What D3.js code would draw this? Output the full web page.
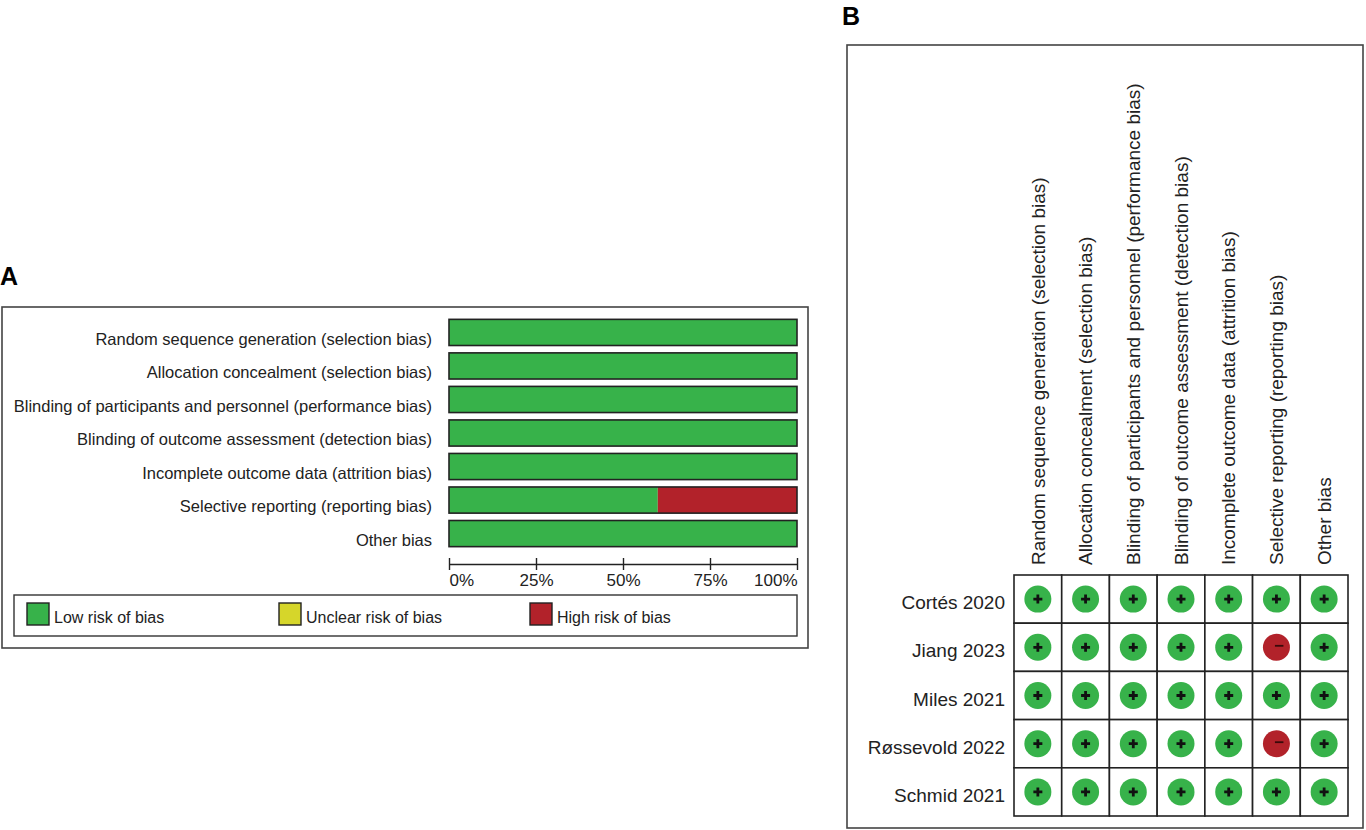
<!DOCTYPE html>
<html><head><meta charset="utf-8">
<script src="https://cdn.jsdelivr.net/npm/d3@7"></script>
<style>
html,body{margin:0;padding:0;background:#fff;}
svg{display:block;font-family:"Liberation Sans",Arial,sans-serif;}
</style></head>
<body>
<svg id="c" width="1366" height="830"></svg>
<script>
// ---- data ----
const domains = [
  "Random sequence generation (selection bias)",
  "Allocation concealment (selection bias)",
  "Blinding of participants and personnel (performance bias)",
  "Blinding of outcome assessment (detection bias)",
  "Incomplete outcome data (attrition bias)",
  "Selective reporting (reporting bias)",
  "Other bias"
];
const lowRisk     = [100, 100, 100, 100, 100, 60, 100];
const unclearRisk = [0, 0, 0, 0, 0, 0, 0];
const highRisk    = [0, 0, 0, 0, 0, 40, 0];
const tickValues  = [0, 25, 50, 75, 100];
const tickLabels  = ["0%", "25%", "50%", "75%", "100%"];
const legendLabels = ["Low risk of bias", "Unclear risk of bias", "High risk of bias"];
const studies = ["Cortés 2020", "Jiang 2023", "Miles 2021", "Røssevold 2022", "Schmid 2021"];
const judgements = [
  ["+","+","+","+","+","+","+"],
  ["+","+","+","+","+","-","+"],
  ["+","+","+","+","+","+","+"],
  ["+","+","+","+","+","-","+"],
  ["+","+","+","+","+","+","+"]
];

const GREEN = "#37b24a", YELLOW = "#d6d62a", RED = "#b2222a", STROKE = "#222";
const svg = d3.select("#c");

// ================= Panel A =================
svg.append("text").attr("x", 0).attr("y", 285).attr("font-size", 25).attr("font-weight", "bold").text("A");
svg.append("rect").attr("x", 2).attr("y", 307).attr("width", 806).attr("height", 341)
  .attr("fill", "none").attr("stroke", "#444").attr("stroke-width", 1.6);

const xA = d3.scaleLinear().domain([0, 100]).range([449, 797]);
const yA = d3.scaleBand().domain(domains).range([316, 550]).paddingInner(0.22).paddingOuter(0.1);

const stackData = domains.map((d, i) => ({domain: d, low: lowRisk[i], unclear: unclearRisk[i], high: highRisk[i]}));
const stack = d3.stack().keys(["low", "unclear", "high"])(stackData);
const colorA = {low: GREEN, unclear: YELLOW, high: RED};

const gA = svg.append("g");
stack.forEach(layer => {
  gA.selectAll(null).data(layer.filter(s => s[1] > s[0])).enter().append("rect")
    .attr("x", s => xA(s[0]))
    .attr("width", s => xA(s[1]) - xA(s[0]))
    .attr("y", s => yA(s.data.domain))
    .attr("height", yA.bandwidth())
    .attr("fill", colorA[layer.key]);
});
gA.selectAll(null).data(domains).enter().append("rect")
  .attr("x", xA(0)).attr("width", xA(100) - xA(0))
  .attr("y", d => yA(d)).attr("height", yA.bandwidth())
  .attr("fill", "none").attr("stroke", STROKE).attr("stroke-width", 1.6);
gA.selectAll(null).data(domains).enter().append("text")
  .attr("x", 432).attr("y", d => yA(d) + yA.bandwidth() - 1)
  .attr("text-anchor", "end").attr("font-size", 16.5).attr("fill", "#222")
  .text(d => d);

// axis
const axA = svg.append("g").attr("transform", "translate(0,564)")
  .call(d3.axisBottom(xA).tickValues(tickValues).tickSize(0).tickFormat((d, i) => tickLabels[i]));
axA.select(".domain").attr("stroke", STROKE).attr("stroke-width", 1.4);
axA.selectAll(".tick").append("line").attr("y1", -6).attr("y2", 6).attr("stroke", STROKE).attr("stroke-width", 1.4);
axA.selectAll(".tick text").attr("y", 22).attr("dy", 0).attr("font-size", 17).attr("fill", "#222")
  .attr("font-family", "Liberation Sans, Arial, sans-serif")
  .attr("text-anchor", (d, i) => i === 0 ? "start" : (i === tickValues.length - 1 ? "end" : "middle"));

// legend
svg.append("rect").attr("x", 14).attr("y", 595).attr("width", 783).attr("height", 41)
  .attr("fill", "none").attr("stroke", "#333").attr("stroke-width", 1.4);
const legX = [27, 279, 530];
const legCol = [GREEN, YELLOW, RED];
const lg = svg.append("g").selectAll(null).data(legendLabels).enter().append("g")
  .attr("transform", (d, i) => `translate(${legX[i]},603)`);
lg.append("rect").attr("width", 22).attr("height", 22).attr("fill", (d, i) => legCol[i])
  .attr("stroke", STROKE).attr("stroke-width", 1.4);
lg.append("text").attr("x", 27).attr("y", 20).attr("font-size", 16).attr("fill", "#222")
  .text(d => d);

// ================= Panel B =================
svg.append("text").attr("x", 842).attr("y", 25).attr("font-size", 25).attr("font-weight", "bold").text("B");
svg.append("rect").attr("x", 847).attr("y", 45).attr("width", 516).attr("height", 783)
  .attr("fill", "none").attr("stroke", "#444").attr("stroke-width", 1.6);

const xB = d3.scaleBand().domain(domains).range([1014, 1348]);
const yB = d3.scaleBand().domain(studies).range([575, 816]);

const gB = svg.append("g");
studies.forEach((s, r) => {
  gB.selectAll(null).data(domains).enter().append("rect")
    .attr("x", d => xB(d)).attr("y", yB(s))
    .attr("width", xB.bandwidth()).attr("height", yB.bandwidth())
    .attr("fill", "#fff").attr("stroke", STROKE).attr("stroke-width", 1.6);
});
const cells = [];
studies.forEach((s, r) => domains.forEach((d, c) => cells.push({s, d, j: judgements[r][c]})));
const sym = gB.selectAll(null).data(cells).enter().append("g")
  .attr("transform", c => `translate(${xB(c.d) + xB.bandwidth() / 2},${yB(c.s) + yB.bandwidth() / 2})`);
sym.append("circle").attr("r", 13.5).attr("fill", c => c.j === "+" ? GREEN : RED);
sym.filter(c => c.j === "+").append("path")
  .attr("d", "M-4.5,0H4.5M0,-4.5V4.5").attr("stroke", "#111").attr("stroke-width", 2.8);
sym.filter(c => c.j === "-").append("path")
  .attr("d", "M-1.5,-1.5H7").attr("stroke", "#3a0a0a").attr("stroke-width", 1.8);

gB.selectAll(null).data(studies).enter().append("text")
  .attr("x", 1005).attr("y", d => yB(d) + yB.bandwidth() / 2 + 10)
  .attr("text-anchor", "end").attr("font-size", 19).attr("fill", "#222").text(d => d);
gB.selectAll(null).data(domains).enter().append("text")
  .attr("transform", d => `translate(${xB(d) + xB.bandwidth() / 2},565) rotate(-90)`)
  .attr("dy", "0.35em").attr("text-anchor", "start").attr("font-size", 19).attr("fill", "#222").text(d => d);
</script>
</body></html>
